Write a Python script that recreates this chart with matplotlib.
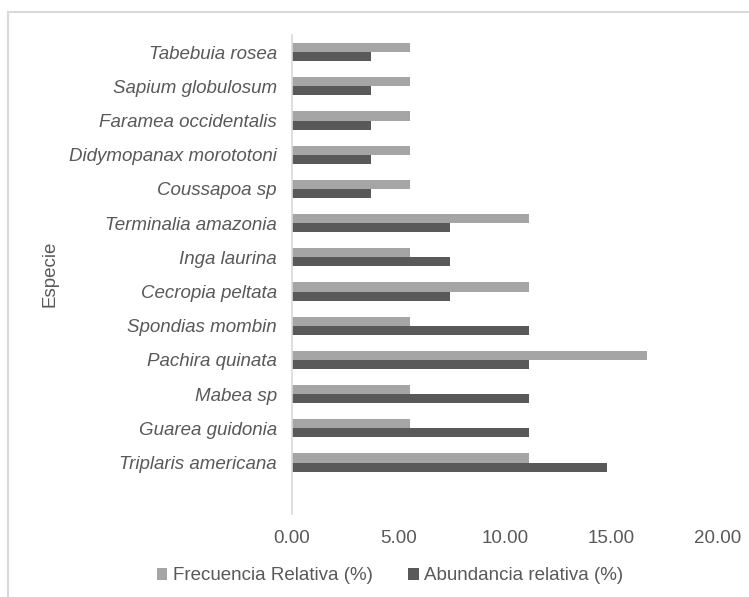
import matplotlib
matplotlib.use("Agg")
import matplotlib.pyplot as plt
import numpy as np
from matplotlib.patches import Rectangle

plt.rcParams['font.family'] = ['Liberation Sans', 'DejaVu Sans']

especies = [
    "Tabebuia rosea", "Sapium globulosum", "Faramea occidentalis",
    "Didymopanax morototoni", "Coussapoa sp", "Terminalia amazonia",
    "Inga laurina", "Cecropia peltata", "Spondias mombin",
    "Pachira quinata", "Mabea sp", "Guarea guidonia", "Triplaris americana",
]
frecuencia = [5.56, 5.56, 5.56, 5.56, 5.56, 11.11, 5.56, 11.11, 5.56, 16.67, 5.56, 5.56, 11.11]
abundancia = [3.70, 3.70, 3.70, 3.70, 3.70, 7.41, 7.41, 7.41, 11.11, 11.11, 11.11, 11.11, 14.81]
xticks = [0, 5, 10, 15, 20]

TEXT = "#595959"
LIGHT = "#A5A5A5"
DARK = "#595959"
FS = 13.5

fig = plt.figure(figsize=(7.49, 5.97), dpi=100)
ax = fig.add_axes([292 / 749, 1 - 513.8 / 597, (718 - 292) / 749, (513.8 - 35) / 597])

n = len(especies)
# top-to-bottom order, with one empty slot below the last category
pos = np.arange(n)
h = 0.265
ax.barh(pos - h / 2, frecuencia, height=h, color=LIGHT, label="Frecuencia Relativa (%)")
ax.barh(pos + h / 2, abundancia, height=h, color=DARK, label="Abundancia relativa (%)")

ax.set_ylim(n + 0.5, -0.5)
ax.set_xlim(0, 20)
ax.set_yticks(pos)
ax.set_yticklabels(especies, fontstyle="italic")
ax.set_xticks(xticks)
ax.set_xticklabels([f"{v:.2f}" for v in xticks])
ax.tick_params(axis="both", length=0, labelsize=FS, colors=TEXT)
ax.tick_params(axis="x", pad=12)
ax.tick_params(axis="y", pad=11)

for s in ("top", "right", "bottom"):
    ax.spines[s].set_visible(False)
ax.spines["left"].set_color("#D9D9D9")
ax.spines["left"].set_linewidth(1.2)

fig.text(50 / 749, 1 - 274 / 597, "Especie", rotation=90, ha="center", va="center",
         fontsize=FS, color=TEXT)

leg = fig.legend(loc="center", bbox_to_anchor=(390 / 749, 1 - 576 / 597), ncol=2,
                 frameon=False, fontsize=FS, handlelength=0.55, handleheight=0.55,
                 handletextpad=0.3, columnspacing=1.9, labelcolor=TEXT,
                 borderpad=0, borderaxespad=0)

# chart area frame
fig.patches.append(Rectangle((8 / 749, -0.1), 1.2, 1 - 12 / 597 + 0.1,
                             transform=fig.transFigure, fill=False,
                             edgecolor="#D9D9D9", linewidth=1.5))

fig.savefig("out.png", dpi=100)
